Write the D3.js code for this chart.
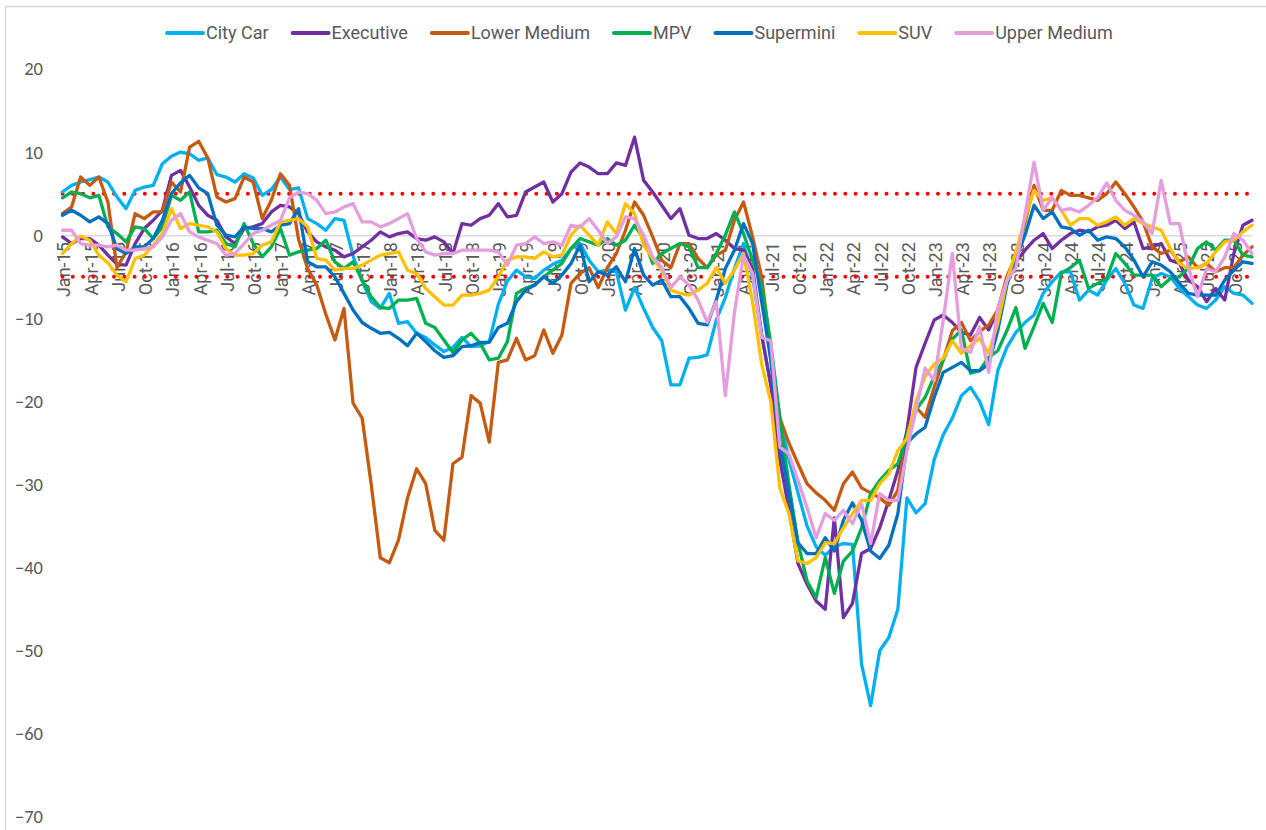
<!DOCTYPE html>
<html>
<head>
<meta charset="utf-8">
<script src="https://cdn.jsdelivr.net/npm/d3@7"></script>
<style>
  body { margin: 0; background: #fff; }
  svg { display: block; }
</style>
</head>
<body>
<div id="chart"></div>
<script>

// pieces used to build the monthly categories (Jan-15 ... Dec-25)
var monthNames = ["Jan","Feb","Mar","Apr","May","Jun","Jul","Aug","Sep","Oct","Nov","Dec"];
var years = ["15","16","17","18","19","20","21","22","23","24","25"];
var months = [];
years.forEach(function(yr){
  monthNames.forEach(function(m){ months.push(m + "-" + yr); });
});

// y axis ticks and the red +/-5 band
var yTicks = [-70, -60, -50, -40, -30, -20, -10, 0, 10, 20];
var bandLines = [5, -5];

// series values, one per month
var cityCar = [
  5.2, 6.0, 6.4, 6.7, 7.0, 6.4, 4.6, 3.2, 5.4, 5.8, 6.0, 8.6,
  9.5, 10.0, 9.8, 9.0, 9.3, 7.3, 7.0, 6.4, 7.4, 6.9, 4.8, 5.5,
  7.0, 5.5, 5.7, 2.0, 1.4, 0.6, 2.0, 1.8, -2.5, -5.5, -8.0, -8.8,
  -7.0, -10.6, -10.4, -11.8, -12.3, -13.2, -14.0, -13.5, -12.3, -13.4, -13.3, -12.8,
  -8.3, -5.5, -4.2, -5.0, -5.2, -4.2, -3.5, -3.0, -1.6, -1.0, -3.0, -4.4,
  -4.2, -4.4, -9.0, -6.3, -8.8, -11.1, -12.7, -18.0, -18.0, -14.8, -14.7, -14.4,
  -10.2, -7.5, -4.0, -1.0, -5.0, -12.0, -18.0, -22.0, -27.0, -31.0, -35.0, -37.5,
  -38.5, -37.5, -37.1, -37.2, -51.6, -56.6, -50.0, -48.4, -45.0, -31.6, -33.4, -32.3,
  -27.0, -24.0, -22.0, -19.3, -18.3, -20.0, -22.8, -16.3, -13.5, -11.7, -10.5, -9.6,
  -7.0, -5.6, -4.4, -4.4, -7.8, -6.6, -7.2, -5.4, -4.0, -5.8, -8.4, -8.8,
  -5.2, -4.6, -5.0, -6.4, -7.4, -8.4, -8.8, -7.8, -6.2, -7.0, -7.2, -8.2
];

var executive = [
  -0.2, -1.0, -0.4, -0.4, -1.2, -2.4, -3.5, -3.6, -1.0, 0.8, 1.8, 3.0,
  7.2, 7.8, 5.8, 3.6, 2.4, 1.8, -0.2, -1.0, 0.8, 1.0, 1.4, 2.8,
  3.6, 3.4, 2.6, 0.4, -0.8, -1.4, -1.8, -2.6, -2.2, -1.4, -0.6, 0.4,
  -0.2, 0.2, 0.4, -0.4, -0.6, -0.2, -0.8, -2.2, 1.4, 1.2, 2.0, 2.4,
  3.8, 2.2, 2.4, 5.2, 5.8, 6.4, 4.0, 5.0, 7.6, 8.7, 8.2, 7.4,
  7.4, 8.7, 8.4, 11.8, 6.6, 5.2, 3.6, 2.0, 3.2, 0.0, -0.4, -0.4,
  0.2, -0.6, -1.6, -1.8, -4.0, -12.0, -18.0, -27.0, -33.0, -39.5, -42.0, -44.0,
  -45.0, -34.0, -46.0, -44.3, -38.3, -37.7, -35.2, -31.9, -28.3, -23.5, -15.9, -13.0,
  -10.2, -9.6, -10.5, -11.7, -12.0, -9.9, -11.4, -9.0, -5.5, -3.2, -1.8, -0.6,
  0.2, -1.6, -0.6, 0.2, 0.6, 0.4, 1.0, 1.2, 1.8, 0.8, 1.6, -1.6,
  -1.4, -1.0, -3.0, -3.4, -5.4, -6.2, -8.0, -6.4, -7.8, -2.2, 1.2, 1.8
];

var lowerMedium = [
  2.6, 3.4, 7.0, 6.0, 7.0, 4.0, -3.9, -2.0, 2.6, 2.0, 2.8, 2.8,
  6.4, 5.2, 10.6, 11.3, 9.3, 4.6, 4.0, 4.4, 7.0, 6.4, 2.0, 4.2,
  7.4, 6.0, -0.5, -4.0, -6.0, -9.5, -12.6, -8.8, -20.2, -22.0, -30.0, -38.8,
  -39.4, -36.7, -31.6, -28.1, -29.9, -35.5, -36.7, -27.5, -26.7, -19.3, -20.2, -24.9,
  -15.3, -15.0, -12.4, -15.0, -14.5, -11.4, -14.2, -12.0, -5.8, -4.6, -3.9, -6.3,
  -3.9, -2.2, 0.6, 4.0, 2.4, -0.2, -3.0, -3.9, -1.0, -1.0, -2.8, -3.9,
  -2.4, -1.8, 1.8, 4.0, -0.2, -5.0, -14.0, -22.0, -25.0, -27.5, -29.9, -31.0,
  -31.9, -33.1, -29.9, -28.5, -30.4, -31.0, -31.6, -32.5, -30.7, -24.0, -20.7, -21.9,
  -18.3, -15.0, -11.5, -10.5, -12.7, -11.6, -10.8, -9.0, -5.0, -2.5, 1.5, 6.0,
  3.0, 3.0, 5.4, 4.8, 4.8, 4.5, 4.2, 5.0, 6.4, 5.0, 3.4, 1.6,
  -1.4, -2.2, -1.8, -3.2, -2.6, -3.9, -3.4, -4.4, -3.9, -3.9, -2.4, -1.4
];

var mpv = [
  4.5, 5.2, 5.0, 4.5, 4.8, 1.0, 0.2, -0.8, 1.0, 0.8, -0.4, 1.0,
  4.8, 4.2, 5.2, 0.4, 0.4, 0.6, -1.0, -1.4, 1.4, -1.0, -2.6, -1.4,
  0.8, -2.4, -2.0, -1.8, -1.6, -0.6, -3.2, -4.0, -3.2, -5.4, -7.4, -8.7,
  -8.8, -7.8, -7.8, -7.6, -10.6, -11.1, -12.6, -14.1, -12.6, -11.8, -13.0, -15.0,
  -14.8, -12.8, -7.0, -6.4, -6.0, -5.0, -4.2, -3.4, -1.6, -0.4, -0.8, -1.2,
  -0.4, -1.2, -0.6, 1.2, -0.4, -3.4, -2.2, -1.6, -1.0, -1.4, -3.9, -3.9,
  -2.2, 0.0, 2.8, 0.2, -3.0, -6.0, -13.0, -22.0, -30.0, -37.0, -41.6, -43.6,
  -38.8, -43.1, -39.2, -38.0, -35.2, -31.1, -29.5, -28.3, -27.5, -24.0, -21.0, -19.5,
  -17.0, -15.0, -12.5, -11.4, -16.6, -16.3, -14.7, -13.9, -11.5, -8.7, -13.6, -11.0,
  -8.2, -10.5, -4.6, -3.9, -3.0, -6.4, -5.8, -5.2, -2.2, -3.4, -4.8, -4.8,
  -4.8, -6.2, -5.2, -5.0, -3.9, -1.6, -0.8, -1.8, -0.6, -0.6, -2.4, -2.6
];

var supermini = [
  2.4, 3.0, 2.4, 1.6, 2.2, 1.4, -1.6, -2.2, -1.4, -1.4, -0.4, 1.8,
  5.0, 6.3, 7.2, 5.7, 5.0, 1.2, 0.0, -0.2, 1.0, 0.8, 0.8, 0.4,
  1.2, 1.4, 3.2, -3.2, -3.8, -3.8, -5.0, -7.0, -9.0, -10.5, -11.2, -11.8,
  -11.7, -12.4, -13.3, -11.8, -12.8, -13.9, -14.7, -14.5, -13.4, -13.3, -12.9, -12.9,
  -11.1, -10.6, -8.0, -6.6, -6.0, -5.0, -5.8, -4.8, -3.4, -1.2, -5.6, -4.4,
  -4.8, -3.8, -5.6, -1.6, -4.8, -6.0, -5.4, -7.4, -7.4, -8.8, -10.6, -10.8,
  -7.8, -4.0, -1.8, 1.4, -1.0, -8.0, -15.0, -25.0, -31.0, -37.0, -38.3, -38.3,
  -36.4, -38.0, -34.3, -32.2, -34.3, -38.0, -38.9, -37.3, -33.5, -25.0, -23.9, -23.1,
  -19.5, -16.5, -15.9, -15.3, -16.3, -16.3, -15.5, -11.5, -6.0, -2.8, 0.0, 3.6,
  2.0, 2.8, 1.0, 0.8, 0.0, 0.6, -0.6, -0.2, -0.4, -1.4, -3.0, -5.0,
  -3.2, -3.6, -4.4, -5.8, -7.0, -7.2, -7.2, -7.2, -5.4, -4.2, -3.2, -3.4
];

var suv = [
  -2.2, -1.0, -0.1, -0.6, -2.4, -3.3, -4.8, -5.6, -2.8, -2.4, -1.2, 0.2,
  3.2, 0.8, 1.4, 1.2, 1.0, 0.4, -1.6, -2.4, -2.4, -2.2, -1.2, -0.8,
  1.6, 1.8, 2.0, 1.0, -2.8, -3.0, -4.2, -4.0, -4.0, -3.6, -3.0, -2.4,
  -2.2, -2.0, -4.2, -4.6, -6.4, -7.4, -8.4, -8.4, -7.2, -7.2, -7.0, -6.6,
  -5.0, -3.0, -2.6, -2.6, -2.8, -2.0, -2.6, -2.4, 0.0, 1.2, 0.0, -1.2,
  1.6, 0.2, 3.8, 2.6, -1.2, -2.8, -4.2, -6.6, -7.0, -7.2, -6.6, -5.8,
  -3.9, -5.8, -4.2, -2.2, -8.0, -15.5, -20.0, -30.4, -33.5, -39.2, -39.5, -38.8,
  -37.0, -37.1, -35.2, -33.5, -31.9, -31.9, -29.9, -28.7, -25.9, -24.5, -20.0, -17.0,
  -15.5, -14.8, -12.7, -14.2, -13.3, -12.4, -14.2, -10.6, -5.5, -2.0, 2.0, 5.4,
  4.2, 4.5, 3.0, 1.2, 2.0, 2.0, 1.2, 1.6, 2.2, 1.2, 2.0, 1.4,
  1.0, 0.6, -1.6, -3.4, -4.0, -3.9, -3.4, -2.0, -0.8, -0.6, 0.4, 1.2
];

var upperMedium = [
  0.6, 0.6, -1.0, -1.2, -1.2, -1.4, -1.2, -1.8, -1.8, -1.6, -1.4, -0.2,
  1.8, 2.6, 0.4, -0.2, -0.6, -1.0, -2.4, -2.2, -1.0, 0.2, 0.6, 1.2,
  1.8, 4.5, 5.2, 5.0, 4.2, 2.6, 2.8, 3.4, 3.8, 1.6, 1.6, 1.0,
  1.4, 2.0, 2.6, -0.4, -2.0, -2.4, -2.2, -2.2, -1.8, -1.8, -1.8, -1.8,
  -2.0, -3.6, -1.2, -1.0, -0.2, -1.0, -0.8, -1.2, 1.2, 1.0, 2.0, 0.6,
  -1.0, -0.2, 2.2, 2.0, 0.0, -2.6, -3.9, -6.3, -5.0, -6.0, -7.8, -10.5,
  -8.0, -19.3, -9.3, -2.4, -4.6, -12.3, -12.7, -25.5, -26.3, -29.5, -32.8, -36.4,
  -33.5, -34.3, -33.1, -34.7, -32.3, -37.1, -31.1, -31.9, -31.9, -25.9, -21.0, -16.0,
  -17.5, -10.2, -2.2, -13.6, -14.1, -11.0, -16.5, -8.8, -5.5, -3.9, 2.5, 8.8,
  3.0, 4.5, 3.0, 3.2, 2.8, 3.6, 4.5, 6.3, 4.2, 3.0, 2.4, 1.6,
  0.2, 6.6, 1.4, 1.4, -3.9, -7.4, -4.0, -4.4, -2.6, 0.2, -0.6, -2.2
];

var seriesNames = ["City Car", "Executive", "Lower Medium", "MPV", "Supermini", "SUV", "Upper Medium"];
var seriesValues = [cityCar, executive, lowerMedium, mpv, supermini, suv, upperMedium];
var seriesColors = ["#00B0F0", "#7030A0", "#C55A11", "#00B050", "#0070C0", "#FFC000", "#E59EDD"];

var width = 1266, height = 830;
var textColor = "#595959";

var svg = d3.select("#chart")
  .append("svg")
    .attr("width", width)
    .attr("height", height);

svg.append("rect")
  .attr("width", width)
  .attr("height", height)
  .attr("fill", "#fff");

// chart border (only top and left edges are inside the picture)
svg.append("rect")
  .attr("x", 5.5)
  .attr("y", 6.5)
  .attr("width", width + 20)
  .attr("height", height + 20)
  .attr("fill", "none")
  .attr("stroke", "#d9d9d9")
  .attr("stroke-width", 1.5);

// scales
var x = d3.scalePoint().domain(months).range([62.5, 1252]);
var y = d3.scaleLinear().domain([-70, 20]).range([817, 69]);

// y axis: labels only
var yAxis = svg.append("g")
  .attr("transform", "translate(43,0)")
  .call(d3.axisLeft(y).tickValues(yTicks).tickSize(0).tickPadding(0));
yAxis.select(".domain").remove();
yAxis.selectAll("text")
  .attr("fill", textColor)
  .style("font-family", "Carlito, Calibri, Lato, sans-serif")
  .style("font-size", "18.5px");

// x axis sits on the zero line, labels every third month, rotated
var xAxis = svg.append("g")
  .attr("transform", "translate(0," + y(0) + ")")
  .call(d3.axisBottom(x)
    .tickValues(months.filter(function(d, i){ return i % 3 == 0; }))
    .tickSize(0)
    .tickSizeOuter(0));
xAxis.select(".domain")
  .attr("stroke", "#d9d9d9")
  .attr("stroke-width", 1.5);
xAxis.selectAll("text")
  .attr("transform", "rotate(-90)")
  .attr("x", -7)
  .attr("y", 1)
  .attr("dy", "0.35em")
  .attr("fill", textColor)
  .style("text-anchor", "end")
  .style("font-family", "Roboto, sans-serif")
  .style("font-size", "18px");

// red dotted +/-5 lines
svg.selectAll(".band")
  .data(bandLines)
  .enter()
  .append("line")
    .attr("class", "band")
    .attr("x1", x(months[0]))
    .attr("x2", x(months[months.length - 1]) + 3)
    .attr("y1", function(d){ return y(d); })
    .attr("y2", function(d){ return y(d); })
    .attr("stroke", "#FF0000")
    .attr("stroke-width", 4)
    .attr("stroke-linecap", "round")
    .attr("stroke-dasharray", "0 10.3");

// series lines
var line = d3.line()
  .x(function(d, i){ return x(months[i]); })
  .y(function(d){ return y(d); });

svg.selectAll(".series")
  .data(seriesValues)
  .enter()
  .append("path")
    .attr("class", "series")
    .attr("d", line)
    .attr("fill", "none")
    .attr("stroke", function(d, i){ return seriesColors[i]; })
    .attr("stroke-width", 3.3)
    .attr("stroke-linejoin", "round")
    .attr("stroke-linecap", "round");

// legend, laid out left to right
var legend = svg.append("g").attr("transform", "translate(0,33)");
var lx = 167;
seriesNames.forEach(function(name, i){
  legend.append("line")
    .attr("x1", lx).attr("x2", lx + 36)
    .attr("y1", 0).attr("y2", 0)
    .attr("stroke", seriesColors[i])
    .attr("stroke-width", 4)
    .attr("stroke-linecap", "round");
  var t = legend.append("text")
    .attr("x", lx + 39)
    .attr("y", 0)
    .attr("dy", "0.35em")
    .attr("fill", textColor)
    .style("font-family", "Roboto, sans-serif")
    .style("font-size", "18px")
    .text(name);
  lx = lx + 39 + t.node().getComputedTextLength() + 24;
});

</script>
</body>
</html>
